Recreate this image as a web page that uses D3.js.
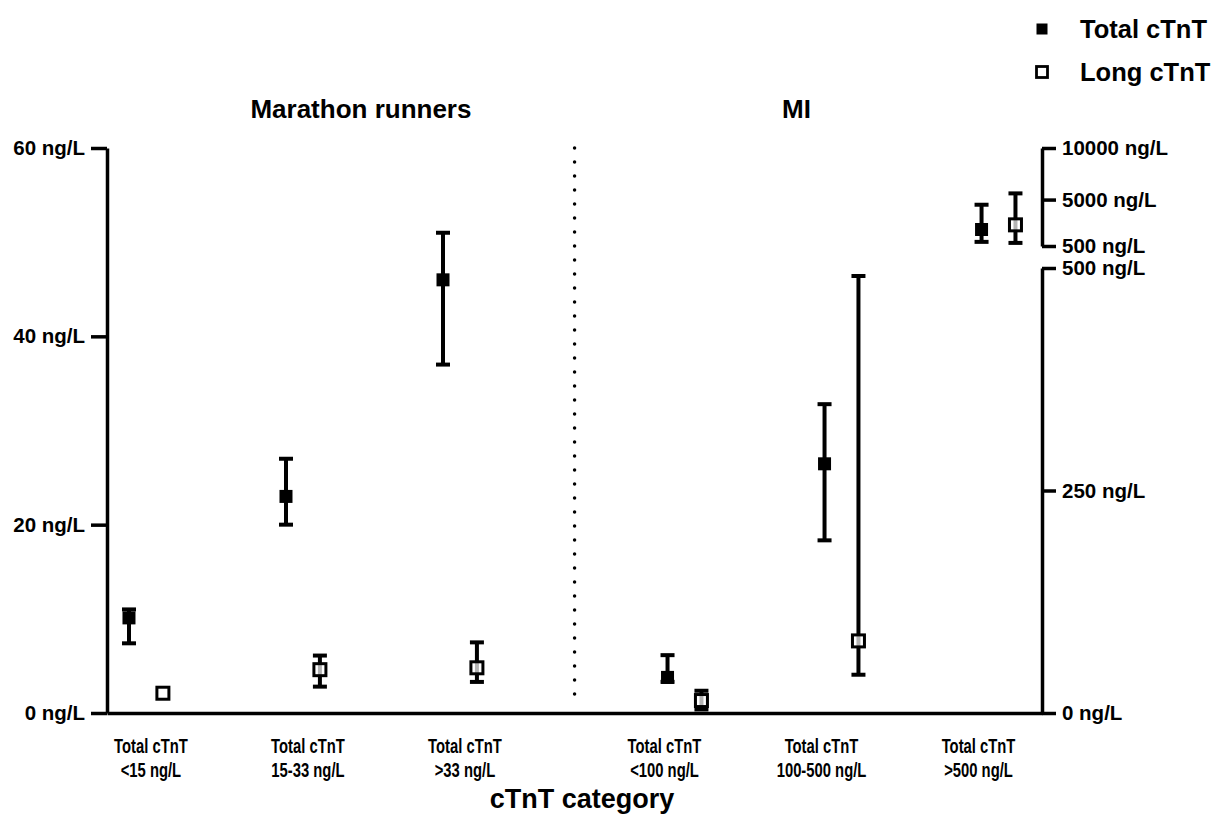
<!DOCTYPE html>
<html>
<head>
<meta charset="utf-8">
<script src="https://cdn.jsdelivr.net/npm/d3@7"></script>
<style>
  body { margin: 0; background: #fff; }
  svg { font-family: "Liberation Sans", Arial, sans-serif; font-weight: bold; }
  .axis text { font-size: 20.5px; font-weight: bold; fill: #000; font-family: "Liberation Sans", Arial, sans-serif; }
  .axis path, .axis line { stroke: #000; stroke-width: 3.5px; }
  .cat { font-size: 19.5px; }
</style>
</head>
<body>
<div id="chart"></div>
<script>
// categories, two panels
const catLine1 = ["Total cTnT", "Total cTnT", "Total cTnT", "Total cTnT", "Total cTnT", "Total cTnT"]
const catLine2 = ["<15 ng/L", "15-33 ng/L", ">33 ng/L", "<100 ng/L", "100-500 ng/L", ">500 ng/L"]
const catPos = [0, 1, 2, 3.43, 4.43, 5.43]
const catPanel = ["runners", "runners", "runners", "MI", "MI", "MI"]

// Total cTnT (filled squares), mean with error range
const totalMean = [10.1, 23, 46, 40, 280, 2100]
const totalLow = [7.4, 20, 37, 35, 194, 900]
const totalHigh = [11, 27, 51, 65, 347, 4500]

// Long cTnT (open squares)
const longMean = [2.1, 4.6, 4.8, 14, 81, 2550]
const longLow = [2.1, 2.8, 3.3, 4, 43, 800]
const longHigh = [2.1, 6.1, 7.5, 25, 491, 5600]

const leftTicks = [0, 20, 40, 60]
const rightLowTicks = [0, 250, 500]
const rightHighTicks = [500, 5000, 10000]

const panelTitles = ["Marathon runners", "MI"]
const legendLabels = ["Total cTnT", "Long cTnT"]

const width = 1214
const height = 839
const marginLeft = 107
const axisRightX = 1042
const yBottom = 713
const yTop = 148

const svg = d3.select("#chart").append("svg")
    .attr("width", width)
    .attr("height", height)
    .attr("viewBox", [0, 0, width, height])

const x = d3.scaleLinear()
    .domain([-0.248, 5.707])
    .range([marginLeft, axisRightX])

const yLeft = d3.scaleLinear().domain([0, 60]).range([yBottom, yTop])
const yLow = d3.scaleLinear().domain([0, 500]).range([yBottom, 268])
const yHigh = d3.scaleLinear().domain([500, 10000]).range([246, yTop])
const yMI = v => v <= 500 ? yLow(v) : yHigh(v)
const yFor = i => catPanel[i] === "MI" ? yMI : yLeft

// axes
svg.append("g")
    .attr("class", "axis")
    .attr("transform", `translate(0,${yBottom})`)
    .call(d3.axisBottom(x).tickValues([]).tickSizeOuter(0))

svg.append("g")
    .attr("class", "axis")
    .attr("transform", `translate(${marginLeft},0)`)
    .call(d3.axisLeft(yLeft).tickValues(leftTicks).tickSize(16).tickSizeOuter(0).tickPadding(6)
        .tickFormat(d => `${d} ng/L`))

svg.append("g")
    .attr("class", "axis")
    .attr("transform", `translate(${axisRightX},0)`)
    .call(d3.axisRight(yLow).tickValues(rightLowTicks).tickSize(14).tickSizeOuter(0).tickPadding(6)
        .tickFormat(d => `${d} ng/L`))

svg.append("g")
    .attr("class", "axis")
    .attr("transform", `translate(${axisRightX},0)`)
    .call(d3.axisRight(yHigh).tickValues(rightHighTicks).tickSize(14).tickSizeOuter(0).tickPadding(6)
        .tickFormat(d => `${d} ng/L`))

// dotted divider between panels
svg.append("line")
    .attr("x1", x(2.73)).attr("x2", x(2.73))
    .attr("y1", yTop).attr("y2", yBottom - 6)
    .attr("stroke", "#000")
    .attr("stroke-width", 3.5)
    .attr("stroke-linecap", "round")
    .attr("stroke-dasharray", "0,14")

// panel titles
svg.append("text").attr("x", x(1) + 58).attr("y", 118).attr("text-anchor", "middle")
    .attr("font-size", 26).text(panelTitles[0])
svg.append("text").attr("x", x(4.43) - 45).attr("y", 118).attr("text-anchor", "middle")
    .attr("font-size", 26).text(panelTitles[1])

// error bars + markers
const off = 0.108
const cap = 7
const series = [
    { mean: totalMean, low: totalLow, high: totalHigh, dx: -off, filled: true },
    { mean: longMean, low: longLow, high: longHigh, dx: off, filled: false },
]

series.forEach(s => {
    const g = svg.append("g")
    const idx = d3.range(catPos.length)
    const bars = g.selectAll("g").data(idx).join("g")
        .attr("stroke", "#000").attr("stroke-width", 4)
    bars.filter(i => s.high[i] !== s.low[i]).each(function (i) {
        const cx = x(catPos[i] + s.dx)
        const y = yFor(i)
        const b = d3.select(this)
        b.append("line").attr("x1", cx).attr("x2", cx).attr("y1", y(s.low[i])).attr("y2", y(s.high[i]))
        b.append("line").attr("x1", cx - cap).attr("x2", cx + cap).attr("y1", y(s.low[i])).attr("y2", y(s.low[i]))
        b.append("line").attr("x1", cx - cap).attr("x2", cx + cap).attr("y1", y(s.high[i])).attr("y2", y(s.high[i]))
    })
    const half = s.filled ? 6.5 : 6
    g.selectAll("rect").data(idx).join("rect")
        .attr("x", i => x(catPos[i] + s.dx) - half)
        .attr("y", i => yFor(i)(s.mean[i]) - half)
        .attr("width", half * 2)
        .attr("height", half * 2)
        .attr("fill", s.filled ? "#000" : "#fff")
        .attr("fill-opacity", s.filled ? 1 : 0.7)
        .attr("stroke", s.filled ? "none" : "#000")
        .attr("stroke-width", 3)
})

// category labels (narrow bold, squeezed horizontally)
const labelShift = i => catPanel[i] === "MI" ? -20 : 5
const cats = svg.append("g").attr("class", "cat")
    .selectAll("g").data(d3.range(catPos.length)).join("g")
    .attr("transform", i => `translate(${x(catPos[i]) + labelShift(i)},753) scale(0.76,1)`)
cats.append("text").attr("text-anchor", "middle").text(i => catLine1[i])
cats.append("text").attr("text-anchor", "middle").attr("y", 24).text(i => catLine2[i])

svg.append("text").attr("x", 582).attr("y", 808).attr("text-anchor", "middle")
    .attr("font-size", 27).text("cTnT category")

// legend
const legend = svg.append("g").selectAll("g").data(legendLabels).join("g")
    .attr("transform", (d, i) => `translate(1042,${29 + i * 43})`)
legend.append("rect")
    .attr("x", -5.5).attr("y", -5.5).attr("width", 11).attr("height", 11)
    .attr("fill", (d, i) => i === 0 ? "#000" : "#fff")
    .attr("stroke", "#000").attr("stroke-width", (d, i) => i === 0 ? 0 : 2.8)
legend.append("text").attr("x", 38).attr("y", 9).attr("font-size", 25.5).text(d => d)
</script>
</body>
</html>
